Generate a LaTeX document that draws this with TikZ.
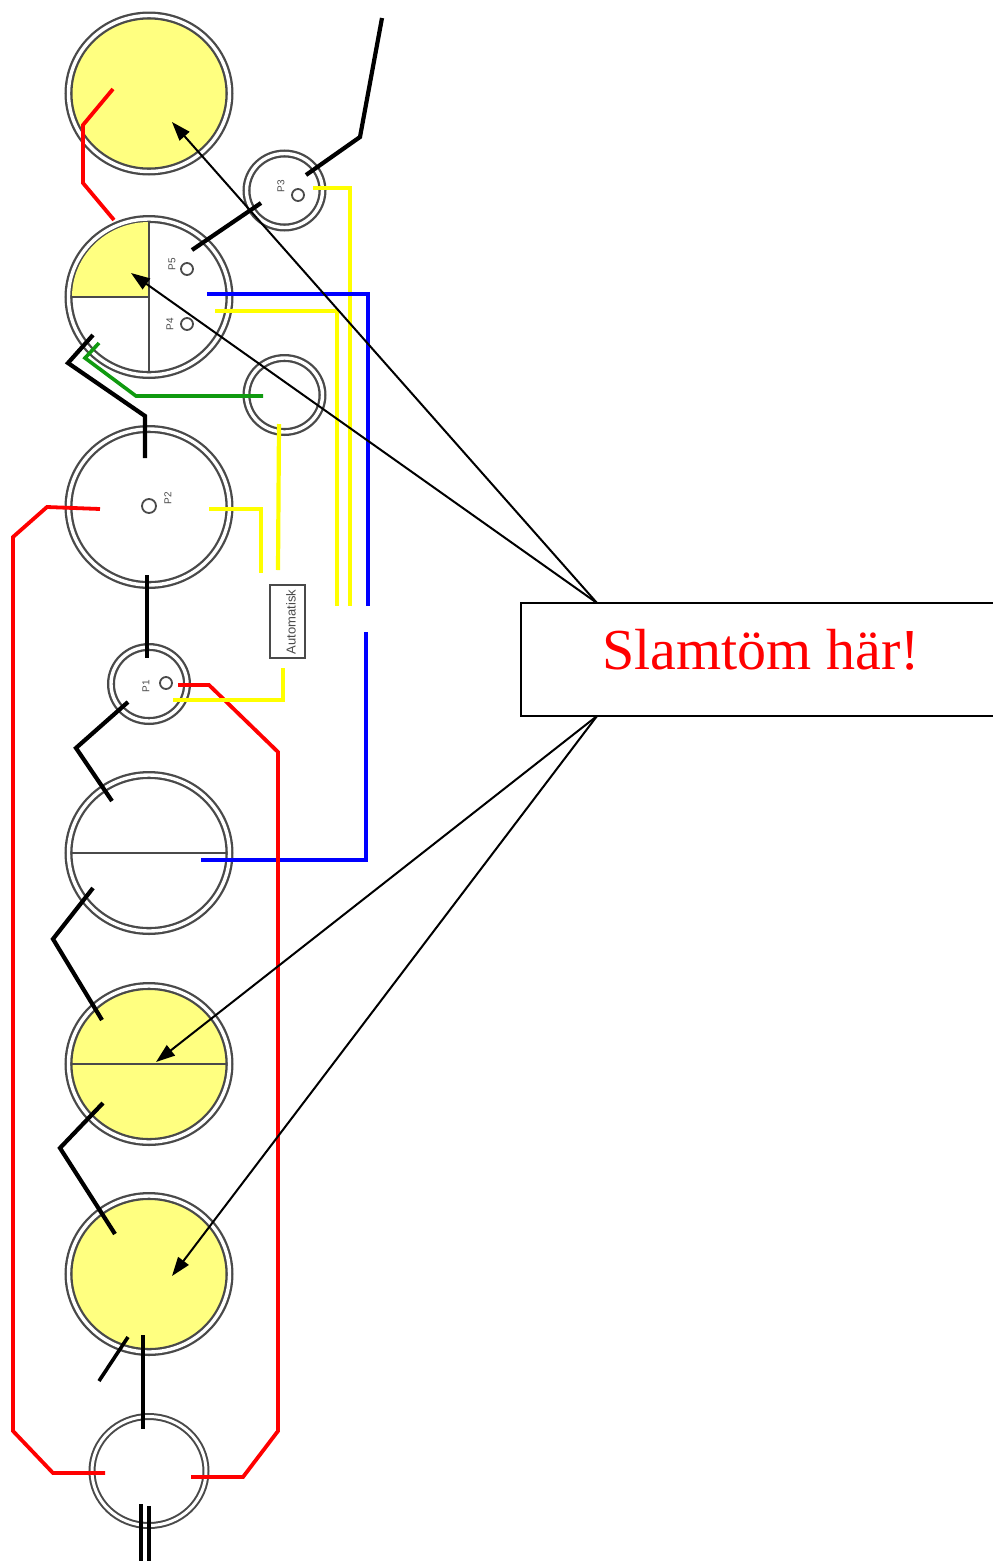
\documentclass[tikz,border=0pt]{standalone}
\usepackage{fontspec}
\setmainfont{Liberation Serif}
\newfontfamily\labelfont{Liberation Sans}
\usetikzlibrary{arrows.meta,shapes.geometric}
\definecolor{tank}{HTML}{FFFF80}
\definecolor{ringc}{HTML}{4A4A4A}
\definecolor{pipeyellow}{HTML}{FFFF00}
\definecolor{pipeblue}{HTML}{0000FF}
\definecolor{pipegreen}{HTML}{109A10}
\tikzset{
  x=1pt,y=1pt,
  ring/.style={ellipse,draw=ringc,line width=2.3pt,double=white,double distance=3.4pt,inner sep=0pt,outer sep=0pt},
  bigtank/.style={ring,minimum width=161pt,minimum height=156pt},
  smalltank/.style={ring,minimum width=76pt,minimum height=74pt},
  pumpmark/.style={circle,draw=ringc,line width=1.8pt,fill=white,minimum size=12pt,inner sep=0pt},
  pumplabel/.style={rotate=90,text=ringc,font=\labelfont\fontsize{10}{10}\selectfont,inner sep=0pt},
  divider/.style={draw=ringc,line width=1.4pt},
  blackpipe/.style={draw=black,line width=4.2pt},
  thinblack/.style={draw=black,line width=3.6pt},
  redpipe/.style={draw=red,line width=3.8pt},
  yellowpipe/.style={draw=pipeyellow,line width=4.2pt},
  bluepipe/.style={draw=pipeblue,line width=4.2pt},
  greenpipe/.style={draw=pipegreen,line width=3.6pt},
  callout/.style={-{Triangle[length=19pt,width=13pt]},draw=black,line width=2pt},
}
\begin{document}
\begin{tikzpicture}
\useasboundingbox (0,0) rectangle (993,-1561);

% tanks
\node[bigtank,fill=tank] (t1) at (149,-93.5) {};
\node[bigtank,fill=white] (t2) at (149,-297) {};
\node[smalltank,fill=white] (p3) at (284.5,-190.5) {};
\node[smalltank,fill=white] (aux) at (284.5,-395) {};
\node[bigtank,fill=white] (t3) at (149,-507) {};
\node[smalltank,fill=white] (p1) at (149,-684) {};
\node[bigtank,fill=white] (t4) at (149,-853) {};
\node[bigtank,fill=tank] (t5) at (149,-1064) {};
\node[bigtank,fill=tank] (t6) at (149,-1274) {};
\node[ring,minimum width=114pt,minimum height=109pt,line width=2pt,double distance=3pt,fill=white] (t7) at (149,-1471) {};

% tank dividers
\fill[tank] (t2.center) -- ++(-77,0) arc[start angle=180,end angle=90,x radius=77,y radius=75] -- cycle;
\draw[divider] (t2.center) ++(0,75) -- ++(0,-150);
\draw[divider] (t2.center) -- ++(-77,0);
\draw[divider] (t4.center) ++(-77,0) -- ++(154,0);
\draw[divider] (t5.center) ++(-77,0) -- ++(154,0);

% pump marks and labels
\node[pumpmark] (m3) at (298,-195) {};
\node[pumpmark] (m5) at (187,-269) {};
\node[pumpmark] (m4) at (187,-324) {};
\node[pumpmark,minimum size=14pt] (m2) at (149,-506) {};
\node[pumpmark] (m1) at (166,-683) {};
\node[pumplabel] (l3) at (281,-186) {P3};
\node[pumplabel] (l5) at (172,-264) {P5};
\node[pumplabel] (l4) at (170,-324) {P4};
\node[pumplabel] (l2) at (168,-498) {P2};
\node[pumplabel] (l1) at (146,-686) {P1};

% control box
\node[draw=ringc,line width=1.6pt,fill=white,minimum width=35pt,minimum height=73pt,inner sep=0pt] (auto) at (287.5,-621.5) {};
\node[rotate=90,text=ringc,font=\labelfont\fontsize{13}{13}\selectfont,inner sep=0pt] (autotext) at (291,-622) {Automatisk};

% free pipe ends
\coordinate (rA) at (113,-89);
\coordinate (rB) at (114,-220);
\coordinate (kA) at (382,-18);
\coordinate (kB) at (306,-175);
\coordinate (kC) at (261,-203);
\coordinate (kD) at (192,-250);
\coordinate (y3a) at (313,-188);
\coordinate (y3b) at (350,-606);
\coordinate (b1a) at (207,-294);
\coordinate (b1b) at (368,-606);
\coordinate (b2a) at (366,-632);
\coordinate (b2b) at (201,-860);
\coordinate (y4a) at (215,-311);
\coordinate (y4b) at (337,-606);
\coordinate (gA) at (99,-343);
\coordinate (gB) at (263,-396);
\coordinate (kE) at (93,-335);
\coordinate (kF) at (145,-458);
\coordinate (yAa) at (279,-424);
\coordinate (yAb) at (278,-570);
\coordinate (y2a) at (209,-509);
\coordinate (y2b) at (261,-573);
\coordinate (yPa) at (283,-668);
\coordinate (yPb) at (173,-700);
\coordinate (rCa) at (178,-685);
\coordinate (rCb) at (191,-1477);
\coordinate (rDa) at (100,-509);
\coordinate (rDb) at (105,-1473);
\coordinate (kGa) at (147,-575);
\coordinate (kGb) at (147,-658);
\coordinate (kHa) at (128,-702);
\coordinate (kHb) at (112,-801);
\coordinate (kIa) at (93,-888);
\coordinate (kIb) at (102,-1020);
\coordinate (kJa) at (103,-1103);
\coordinate (kJb) at (115,-1234);
\coordinate (kKa) at (128,-1337);
\coordinate (kKb) at (99,-1381);
\coordinate (kLa) at (143,-1335);
\coordinate (kLb) at (143,-1429);
\coordinate (kMa) at (141,-1504);
\coordinate (kMb) at (141,-1561);
\coordinate (kNa) at (149,-1506);
\coordinate (kNb) at (149,-1561);

% pipes
\draw[redpipe] (rA) -- (83,-125) -- (83,-183) -- (rB);
\draw[blackpipe] (kA) -- (360,-137) -- (kB);
\draw[blackpipe] (kC) -- (kD);
\draw[yellowpipe] (y3a) -- (350,-188) -- (y3b);
\draw[yellowpipe] (y4a) -- (337,-311) -- (y4b);
\draw[bluepipe] (b1a) -- (368,-294) -- (b1b);
\draw[bluepipe] (b2a) -- (366,-860) -- (b2b);
\draw[greenpipe] (gA) -- (85,-358) -- (136,-396) -- (gB);
\draw[blackpipe] (kE) -- (68,-363) -- (145,-416) -- (kF);
\draw[yellowpipe] (yAa) -- (yAb);
\draw[yellowpipe] (y2a) -- (261,-509) -- (y2b);
\draw[blackpipe] (kGa) -- (kGb);
\draw[redpipe] (rCa) -- (209,-685) -- (278,-752) -- (278,-1431) -- (243,-1477) -- (rCb);
\draw[yellowpipe] (yPa) -- (283,-700) -- (yPb);
\draw[redpipe] (rDa) -- (47,-507) -- (13,-537) -- (13,-1431) -- (53,-1473) -- (rDb);
\draw[blackpipe] (kHa) -- (76,-748) -- (kHb);
\draw[blackpipe] (kIa) -- (53,-939) -- (kIb);
\draw[blackpipe] (kJa) -- (60,-1148) -- (kJb);
\draw[thinblack] (kKa) -- (kKb);
\draw[thinblack] (kLa) -- (kLb);
\draw[thinblack] (kMa) -- (kMb);
\draw[thinblack] (kNa) -- (kNb);

% callout
\node[draw=black,line width=1.6pt,fill=white,minimum width=473pt,minimum height=113pt,inner sep=0pt] (box) at (757.5,-659.5) {};
\node[text=red,font=\fontsize{58}{60}\selectfont,inner sep=0pt] (boxtext) at (761,-650) {Slamtöm här!};
\coordinate (boxT) at (597,-603);
\coordinate (boxB) at (597,-716);
\coordinate (a1) at (172,-122);
\coordinate (a2) at (131,-273);
\coordinate (a3) at (156,-1062);
\coordinate (a4) at (172,-1276);
\draw[callout] (boxT) -- (a1);
\draw[callout] (boxT) -- (a2);
\draw[callout] (boxB) -- (a3);
\draw[callout] (boxB) -- (a4);
\end{tikzpicture}
\end{document}
